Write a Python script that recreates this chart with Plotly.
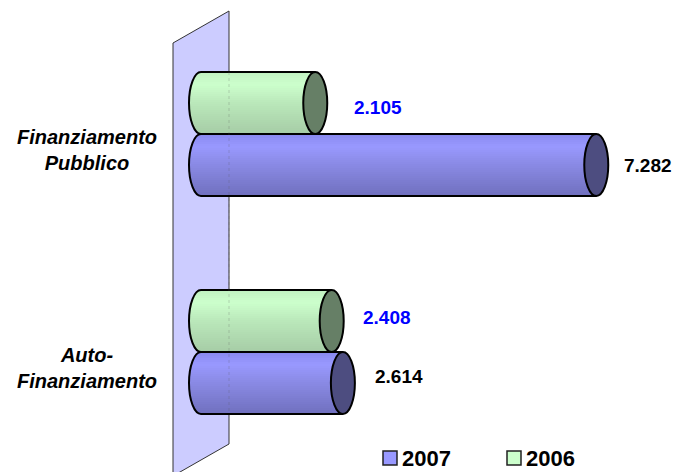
import math
import plotly.graph_objects as go

categories = ["Auto-<br>Finanziamento", "Finanziamento<br>Pubblico"]
values_2007 = [2614, 7282]
values_2006 = [2408, 2105]
series_names = ["2007", "2006"]

y_pos = [0, 1]
FONT = "Liberation Sans"
W, H = 673, 472

# picture scale: value 0 sits at 201 px, 0.05428 px per unit; categories 218 px apart
PX_PER_UNIT = 0.05428
ZERO_PX = 201
PX_PER_CAT = 218
CAT0_PX = 352
x_range = [-ZERO_PX / PX_PER_UNIT, (W - ZERO_PX) / PX_PER_UNIT]
y_range = [-(H - CAT0_PX) / PX_PER_CAT, CAT0_PX / PX_PER_CAT]

BAR_H = 62 / PX_PER_CAT
RX = 12 / PX_PER_UNIT
STRIPS = 31


def mix(stops, t):
    # stops are (position, (r, g, b))
    for (p0, c0), (p1, c1) in zip(stops, stops[1:]):
        if t <= p1:
            f = (t - p0) / (p1 - p0)
            rgb = [round(a + (b - a) * f) for a, b in zip(c0, c1)]
            return "rgb(%d,%d,%d)" % tuple(rgb)
    return "rgb(%d,%d,%d)" % stops[-1][1]


blue_stops = [(0, (136, 136, 238)), (0.2, (153, 153, 255)), (0.45, (140, 140, 232)), (1, (112, 112, 190))]
green_stops = [(0, (192, 240, 192)), (0.2, (204, 255, 204)), (0.5, (186, 232, 186)), (1, (166, 204, 166))]

fig = go.Figure()


def add_cylinders(values, offset_top, stops):
    # one thin bar per colour band, each starting on the rounded left end
    step = BAR_H / STRIPS
    for i in range(STRIPS):
        t = (i + 0.5) / STRIPS
        dx = RX * math.sqrt(1 - (2 * t - 1) ** 2)
        fig.add_trace(go.Bar(
            y=y_pos,
            x=[v + dx for v in values],
            base=-dx,
            orientation="h",
            width=step * 1.02,
            offset=offset_top - step * (i + 1),
            marker=dict(color=mix(stops, t), line=dict(width=0)),
            showlegend=False,
            hoverinfo="skip"
        ))


def cylinder_shapes(values, offset_top, cap_color):
    shapes = []
    k = 0.5523
    for pos, v in zip(y_pos, values):
        top = pos + offset_top
        bot = top - BAR_H
        mid = top - BAR_H / 2
        ry = BAR_H / 2
        path = (
            f"M {v},{top} L 0,{top} "
            f"C {-k * RX},{top} {-RX},{mid + k * ry} {-RX},{mid} "
            f"C {-RX},{mid - k * ry} {-k * RX},{bot} 0,{bot} "
            f"L {v},{bot}"
        )
        shapes.append(dict(type="path", xref="x", yref="y", path=path,
                           line=dict(color="black", width=2)))
        shapes.append(dict(type="circle", xref="x", yref="y",
                           x0=v - RX, x1=v + RX, y0=bot, y1=top,
                           fillcolor=cap_color, line=dict(color="black", width=2)))
    return shapes


add_cylinders(values_2006, BAR_H, green_stops)
add_cylinders(values_2007, 0, blue_stops)


# back wall and legend, in paper fractions
def px(x):
    return x / W


def py(y):
    return 1 - y / H


wall = (
    f"M {px(173)},{py(43)} L {px(229)},{py(11)} L {px(229)},{py(444)} "
    f"L {px(173)},{py(476)} Z"
)
shapes = [
    dict(type="path", xref="paper", yref="paper", path=wall, layer="below",
         fillcolor="#CCCCFF", line=dict(color="#333333", width=1)),
]
shapes += cylinder_shapes(values_2006, BAR_H, "#667F66")
shapes += cylinder_shapes(values_2007, 0, "#4D4D80")
# wall edge showing faintly through the bars
shapes.append(dict(type="line", xref="paper", yref="paper",
                   x0=px(229), x1=px(229), y0=py(72), y1=py(414),
                   line=dict(color="rgba(90,90,90,0.25)", width=1, dash="dot")))

annotations = []
for cat, pos in zip(categories, y_pos):
    annotations.append(dict(
        x=(87 - ZERO_PX) / PX_PER_UNIT, y=pos - 16 / PX_PER_CAT, xref="x", yref="y", text=cat, showarrow=False,
        xanchor="center", yanchor="middle", align="center",
        font=dict(family=FONT, size=20, color="black", style="italic", weight="bold")
    ))

label_shift = {"2007": [56, 52], "2006": [55, 63]}
label_y = {"2007": [-24, -31], "2006": [35, 27]}
label_color = {"2007": "black", "2006": "#0000FF"}
for name, values in zip(series_names, [values_2007, values_2006]):
    for pos, v, shift, lift in zip(y_pos, values, label_shift[name], label_y[name]):
        annotations.append(dict(
            x=v + shift / PX_PER_UNIT, y=pos + lift / PX_PER_CAT, xref="x", yref="y",
            text=f"{v:,}".replace(",", "."), showarrow=False,
            xanchor="center", yanchor="middle",
            font=dict(family=FONT, size=19, color=label_color[name], weight="bold")
        ))

# legend
for name, color, box_x in zip(series_names, ["#9999FF", "#CCFFCC"], [383, 507]):
    shapes.append(dict(type="rect", xref="paper", yref="paper",
                       x0=px(box_x), x1=px(box_x + 14), y0=py(465), y1=py(451),
                       fillcolor=color, line=dict(color="#222222", width=1.5)))
    annotations.append(dict(
        x=px(box_x + 17), y=py(458), xref="paper", yref="paper", text=name, showarrow=False,
        xanchor="left", yanchor="middle",
        font=dict(family=FONT, size=22, color="black", weight="bold")
    ))

fig.update_layout(
    width=W,
    height=H,
    margin=dict(l=0, r=0, t=0, b=0),
    paper_bgcolor="white",
    plot_bgcolor="rgba(0,0,0,0)",
    barmode="overlay",
    bargap=0,
    showlegend=False,
    xaxis=dict(range=x_range, visible=False, fixedrange=True),
    yaxis=dict(range=y_range, visible=False, fixedrange=True),
    shapes=shapes,
    annotations=annotations,
    font=dict(family=FONT)
)

fig.write_html("out.html", config=dict(displayModeBar=False),
               post_script="document.body.style.margin = '0';")
